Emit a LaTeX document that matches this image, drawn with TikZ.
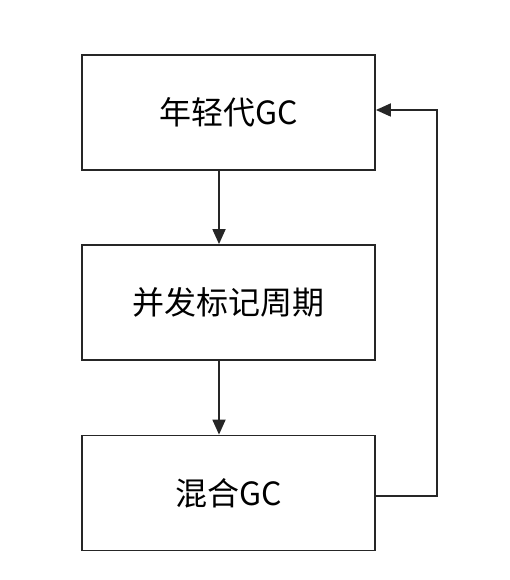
\documentclass[tikz,border=0pt]{standalone}
\usepackage{fontspec}
\newfontfamily\cjk{Noto Sans CJK SC}
\usetikzlibrary{arrows.meta}
\begin{document}
\begin{tikzpicture}[x=1pt,y=-1pt,
  stepbox/.style={draw=black!85,line width=1.8pt,minimum width=293pt,minimum height=115pt,inner sep=0pt,font=\cjk\fontsize{32}{38}\selectfont},
  conn/.style={line width=1.8pt,draw=black!85,-{Triangle[length=15pt,width=13pt]}}]
\useasboundingbox (0,0) rectangle (510,580);
\node[stepbox] (a) at (228.5,112.5) {年轻代GC};
\node[stepbox] (b) at (228.5,302.5) {并发标记周期};
\node[stepbox] (c) at (228.5,493) {混合GC};
\coordinate (p1) at (437,496);
\coordinate (p2) at (437,110);
\draw[conn] (a.south -| 219,0) -- (b.north -| 219,0);
\draw[conn] (b.south -| 219,0) -- (c.north -| 219,0);
\draw[conn] (c.east |- p1) -- (p1) -- (p2) -- (a.east |- p2);
\end{tikzpicture}
\end{document}
